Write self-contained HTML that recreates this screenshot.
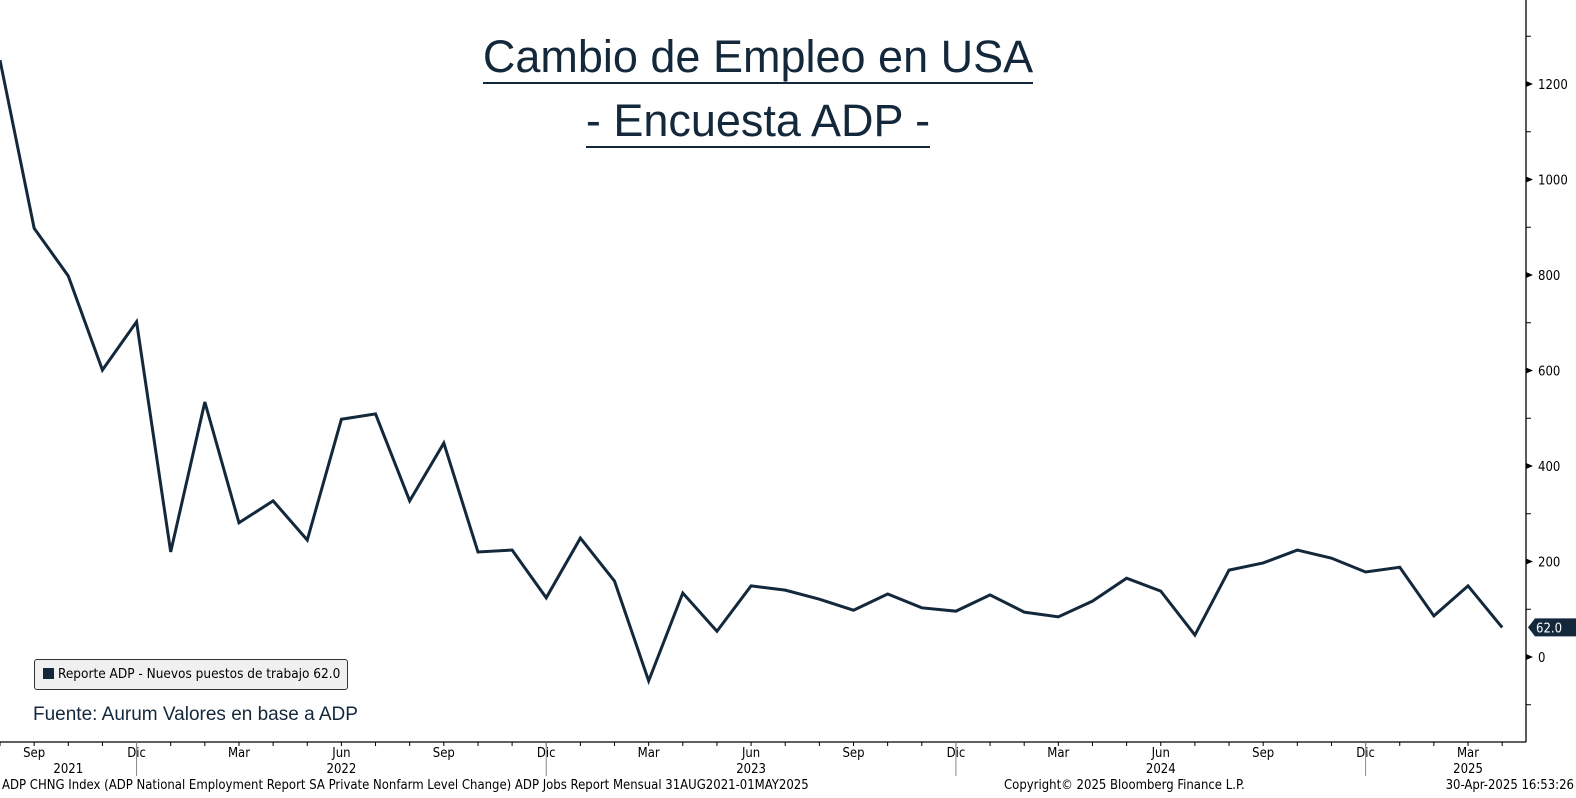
<!DOCTYPE html>
<html><head><meta charset="utf-8"><style>
body{margin:0;background:#fff;width:1576px;height:798px;overflow:hidden}
svg{display:block;font-family:"DejaVu Sans Condensed","Liberation Sans",sans-serif}
</style></head><body>
<svg id="c" width="1576" height="798"></svg>
<script>
const months=["Aug21","Sep21","Oct21","Nov21","Dec21","Jan22","Feb22","Mar22","Apr22","May22","Jun22","Jul22","Aug22","Sep22","Oct22","Nov22","Dec22","Jan23","Feb23","Mar23","Apr23","May23","Jun23","Jul23","Aug23","Sep23","Oct23","Nov23","Dec23","Jan24","Feb24","Mar24","Apr24","May24","Jun24","Jul24","Aug24","Sep24","Oct24","Nov24","Dec24","Jan25","Feb25","Mar25","Apr25"];
const values=[1250,898,798,601,702,220,534,281,327,245,498,509,327,448,220,224,124,249,159,-50,134,54,149,140,121,98,132,103,96,130,94,84,117,165,138,46,182,197,224,207,178,188,86,149,62];
const yTicks=[0,200,400,600,800,1000,1200];
const xLabels=[{i:1,t:"Sep"},{i:4,t:"Dic"},{i:7,t:"Mar"},{i:10,t:"Jun"},{i:13,t:"Sep"},{i:16,t:"Dic"},{i:19,t:"Mar"},{i:22,t:"Jun"},{i:25,t:"Sep"},{i:28,t:"Dic"},{i:31,t:"Mar"},{i:34,t:"Jun"},{i:37,t:"Sep"},{i:40,t:"Dic"},{i:43,t:"Mar"}];
const years=[{i:2,t:"2021"},{i:10,t:"2022"},{i:22,t:"2023"},{i:34,t:"2024"},{i:43,t:"2025"}];
const NS="http://www.w3.org/2000/svg",svg=document.getElementById('c');
const xs=i=>i*34.14, ys=v=>657-v*0.4775;
const AX=1526, BY=742;
function el(t,a,txt){const e=document.createElementNS(NS,t);for(const k in a)e.setAttribute(k,a[k]);if(txt!=null)e.textContent=txt;svg.appendChild(e);return e;}
let e;
e=el('line',{x1:AX,y1:0,x2:AX,y2:BY,stroke:'#000','stroke-width':1.3});

e=el('line',{x1:0,y1:BY,x2:AX,y2:BY,stroke:'#000','stroke-width':1.3});

for(let v=-100;v<=1300;v+=100){const y=ys(v);
 if(yTicks.includes(v)){e=el('path',{d:`M${AX} ${y-3}L${AX+7} ${y}L${AX} ${y+3}Z`,fill:'#000'});
 
 e=el('text',{x:AX+12,y:y+5,'font-size':13,fill:'#000'},String(v));
 }
 else{e=el('line',{x1:AX,y1:y,x2:AX+5,y2:y,stroke:'#000'});}}
for(let i=0;i<months.length;i++){const x=xs(i);
 e=el('line',{x1:x,y1:BY,x2:x,y2:BY+4,stroke:'#000'});}
xLabels.forEach(l=>{e=el('text',{x:xs(l.i),y:BY+15,'font-size':13,'text-anchor':'middle',fill:'#000'},l.t);
 
 if(l.t==="Dic"){e=el('line',{x1:xs(l.i),y1:BY,x2:xs(l.i),y2:776,stroke:'#888'});}});
years.forEach(l=>{e=el('text',{x:xs(l.i),y:BY+31,'font-size':13,'text-anchor':'middle',fill:'#000'},l.t);
 });
e=el('polyline',{points:values.map((v,i)=>xs(i)+','+ys(v)).join(' '),fill:'none',stroke:'#14283c','stroke-width':3,'stroke-linejoin':'miter'});

const last=values[values.length-1],ly=ys(last);
e=el('path',{d:`M${AX+2} ${ly}L${AX+9} ${ly-9}H1576V${ly+9}H${AX+9}Z`,fill:'#14283c'});

e=el('text',{x:1536,y:ly+5,'font-size':13,fill:'#fff'},last.toFixed(1));

</script>
<div style="position:absolute;left:0;top:25px;width:1516px;text-align:center;font-family:'Liberation Sans',sans-serif;font-size:45px;color:#14283c;line-height:64px">
<span style="border-bottom:2px solid #14283c">Cambio de Empleo en USA</span><br><span style="border-bottom:2px solid #14283c">- Encuesta ADP -</span></div>
<div style="position:absolute;left:34px;top:659px;width:312px;height:29px;border:1px solid #333;border-radius:3px;background:#f0f0f0;font-family:'DejaVu Sans Condensed','Liberation Sans',sans-serif;font-size:13.5px;line-height:29px;white-space:nowrap">
<span style="display:inline-block;width:11px;height:11px;background:#14283c;margin:0 4px 0 8px;vertical-align:-1px"></span>Reporte ADP - Nuevos puestos de trabajo 62.0</div>
<div style="position:absolute;left:33px;top:704px;font-family:'Liberation Sans',sans-serif;font-size:19px;color:#14283c">Fuente: Aurum Valores en base a ADP</div>
<div style="position:absolute;left:2px;top:778px;font-family:'DejaVu Sans Condensed','Liberation Sans',sans-serif;font-size:13px;color:#000;white-space:nowrap">ADP CHNG Index (ADP National Employment Report SA Private Nonfarm Level Change) ADP Jobs Report  Mensual 31AUG2021-01MAY2025</div>
<div style="position:absolute;left:1004px;top:778px;font-family:'DejaVu Sans Condensed','Liberation Sans',sans-serif;font-size:13px;white-space:nowrap">Copyright© 2025 Bloomberg Finance L.P.</div>
<div style="position:absolute;right:2px;top:778px;font-family:'DejaVu Sans Condensed','Liberation Sans',sans-serif;font-size:13px;white-space:nowrap">30-Apr-2025 16:53:26</div>
</body></html>
